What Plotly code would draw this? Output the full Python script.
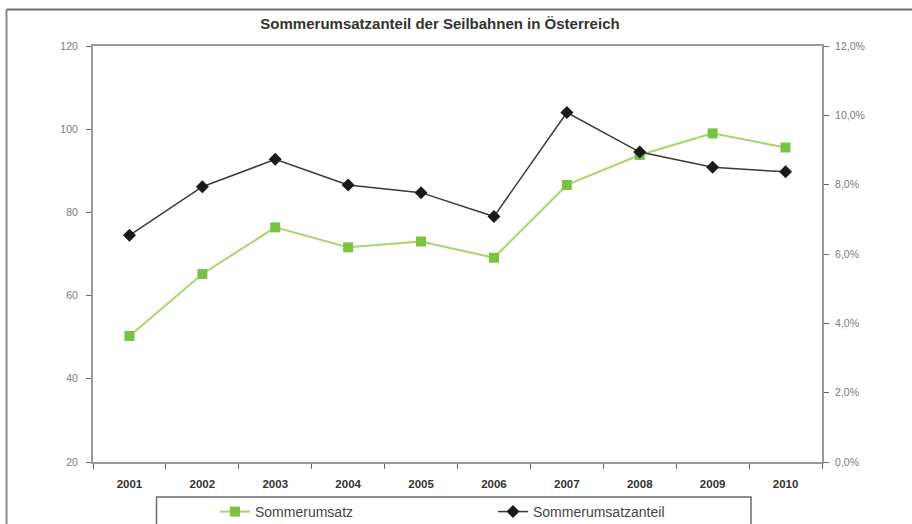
import plotly.graph_objects as go

years = ["2001", "2002", "2003", "2004", "2005", "2006", "2007", "2008", "2009", "2010"]
sommerumsatz = [50.3, 65.2, 76.4, 71.6, 73.0, 69.1, 86.6, 93.8, 99.0, 95.6]
anteil_pct = [6.54, 7.94, 8.73, 7.99, 7.77, 7.08, 10.08, 8.94, 8.50, 8.37]
left_ticks = [20, 40, 60, 80, 100, 120]
right_ticks = [0, 2, 4, 6, 8, 10, 12]
right_labels = ["0,0%", "2,0%", "4,0%", "6,0%", "8,0%", "10,0%", "12,0%"]

W, H = 912, 524
L, R, T, B = 93, 90, 46, 62
pw, ph = W - L - R, H - T - B

def px_x(x):
    return (x - L) / pw

def px_y(y):
    return (H - B - y) / ph

fig = go.Figure()
fig.add_trace(go.Scatter(
    x=years, y=sommerumsatz, name="Sommerumsatz", mode="lines+markers",
    line=dict(color="#a6d66a", width=2),
    marker=dict(symbol="square", size=10, color="#7cc242"),
))
fig.add_trace(go.Scatter(
    x=years, y=anteil_pct, name="Sommerumsatzanteil", mode="lines+markers",
    yaxis="y2",
    line=dict(color="#3a3a3a", width=1.5),
    marker=dict(symbol="diamond", size=10, color="#1a1a1a"),
))

axis_col = "#9a9a9a"
fam = "Liberation Sans, Arial, sans-serif"
tick_font = dict(family=fam, size=10.5, color="#7a7a7a")

fig.update_layout(
    width=W, height=H,
    margin=dict(l=L, r=R, t=T, b=B, autoexpand=False),
    paper_bgcolor="white", plot_bgcolor="white",
    title=dict(text="<b>Sommerumsatzanteil der Seilbahnen in Österreich</b>",
               x=440 / W, xanchor="center", y=1 - 24 / H, yanchor="middle",
               font=dict(family=fam, size=15, color="#333333")),
    xaxis=dict(type="category", range=[-0.5, len(years) - 0.5], autorange=False,
               showline=True, linecolor=axis_col, linewidth=2,
               mirror=True, ticks="outside", ticklen=5, tickcolor="#666666",
               tickson="boundaries", showgrid=False, zeroline=False,
               tickfont=dict(family=fam, size=11.5, color="#333333"),
               tickprefix="<b>", ticksuffix="</b>", ticklabelstandoff=10),
    yaxis=dict(range=[20, 120], tickvals=left_ticks, showline=True, linecolor=axis_col,
               linewidth=2, ticks="outside", ticklen=5, tickcolor="#666666",
               showgrid=False, zeroline=False, tickfont=tick_font, ticklabelstandoff=6),
    yaxis2=dict(range=[0, 12], tickvals=right_ticks, ticktext=right_labels,
                overlaying="y", side="right", showline=True, linecolor=axis_col,
                linewidth=2, ticks="outside", ticklen=5, tickcolor="#666666",
                showgrid=False, zeroline=False, tickfont=tick_font, ticklabelstandoff=4),
    legend=dict(orientation="h", x=px_x(215), xanchor="left", y=px_y(496), yanchor="top",
                bgcolor="rgba(0,0,0,0)", entrywidth=233, entrywidthmode="pixels",
                font=dict(family=fam, size=14, color="#444444")),
    showlegend=True,
)

# outer frame (top and left) and legend box
fig.add_shape(type="line", xref="paper", yref="paper",
              x0=px_x(6.5), x1=px_x(912), y0=px_y(9.5), y1=px_y(9.5),
              line=dict(color="#6e6e6e", width=2))
fig.add_shape(type="line", xref="paper", yref="paper",
              x0=px_x(6.5), x1=px_x(6.5), y0=px_y(9.5), y1=px_y(524),
              line=dict(color="#8a8a8a", width=2))
fig.add_shape(type="rect", xref="paper", yref="paper",
              x0=px_x(156.5), x1=px_x(751), y0=px_y(497), y1=px_y(530),
              line=dict(color="#6e6e6e", width=1.5))

fig.write_html("out.html")
